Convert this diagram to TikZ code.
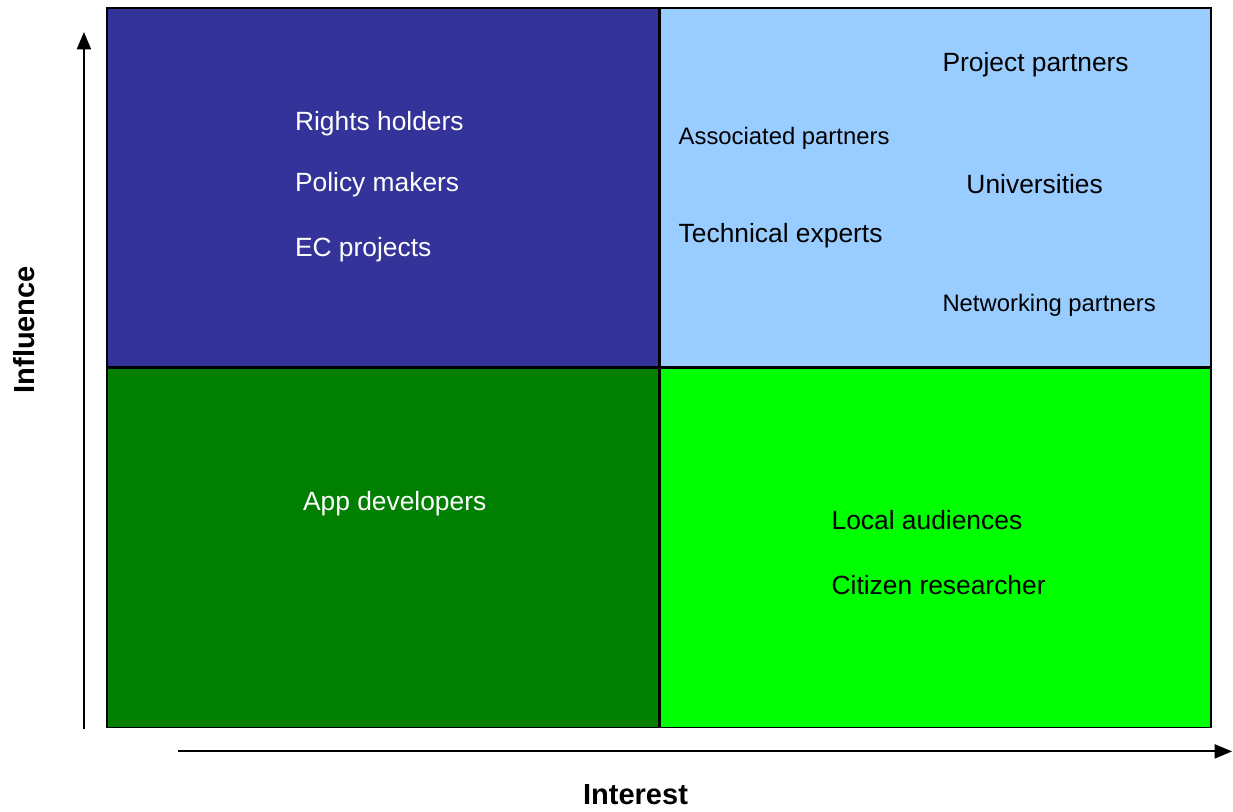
\documentclass[tikz,border=0pt]{standalone}
\usepackage{fontspec}
\setmainfont{Liberation Sans}
\usetikzlibrary{arrows.meta}
\definecolor{hiinf}{HTML}{333399}
\definecolor{hiboth}{HTML}{99CCFF}
\definecolor{loboth}{HTML}{007F00}
\definecolor{hiint}{HTML}{00FF00}
\begin{document}
\begin{tikzpicture}[x=0.75pt,y=-0.75pt,
    quad/.style={draw=black,line width=1.1pt},
    lbl/.style={anchor=west,inner sep=0pt,font=\fontsize{19.8}{24}\selectfont},
    small_lbl/.style={anchor=west,inner sep=0pt,font=\fontsize{17.9}{22}\selectfont},
    axis_lbl/.style={inner sep=0pt,font=\bfseries\fontsize{21.8}{26}\selectfont},
    axis/.style={line width=1.5pt,-{Triangle[length=13pt,width=10.5pt]}}]
    \fill[white] (0,0) rectangle (1233,812);
    % quadrants
    \draw[quad,fill=hiinf] (107,8) rectangle (660,368);
    \draw[quad,fill=hiboth] (660,8) rectangle (1212,368);
    \draw[quad,fill=loboth] (107,368) rectangle (660,728);
    \draw[quad,fill=hiint] (660,368) rectangle (1212,728);
    \draw[line width=2pt] (660,8) -- (660,728) (107,368) -- (1212,368);
    % high influence, low interest
    \node[lbl,white] (rh) at (295,124) {Rights holders};
    \node[lbl,white] (pm) at (295,185) {Policy makers};
    \node[lbl,white] (ec) at (295,250) {EC projects};
    % high influence, high interest
    \node[lbl] (pp) at (943,65) {Project partners};
    \node[small_lbl] (ap) at (679,138) {Associated partners};
    \node[lbl] (un) at (967,184) {Universities};
    \node[lbl] (te) at (679,236) {Technical experts};
    \node[small_lbl] (np) at (943,306) {Networking partners};
    % low influence
    \node[lbl,white] (ad) at (303,504) {App developers};
    \node[lbl] (la) at (832,520) {Local audiences};
    \node[lbl] (cr) at (832,586) {Citizen researcher};
    % axes
    \coordinate (y0) at (84,730);
    \coordinate (y1) at (84,32);
    \coordinate (x0) at (178,752);
    \coordinate (x1) at (1233,752);
    \draw[axis] (y0) -- (y1);
    \draw[axis] (x0) -- (x1);
    \node[axis_lbl,rotate=90] (infl) at (24,330) {Influence};
    \node[axis_lbl] (intr) at (636,795) {Interest};
\end{tikzpicture}
\end{document}
